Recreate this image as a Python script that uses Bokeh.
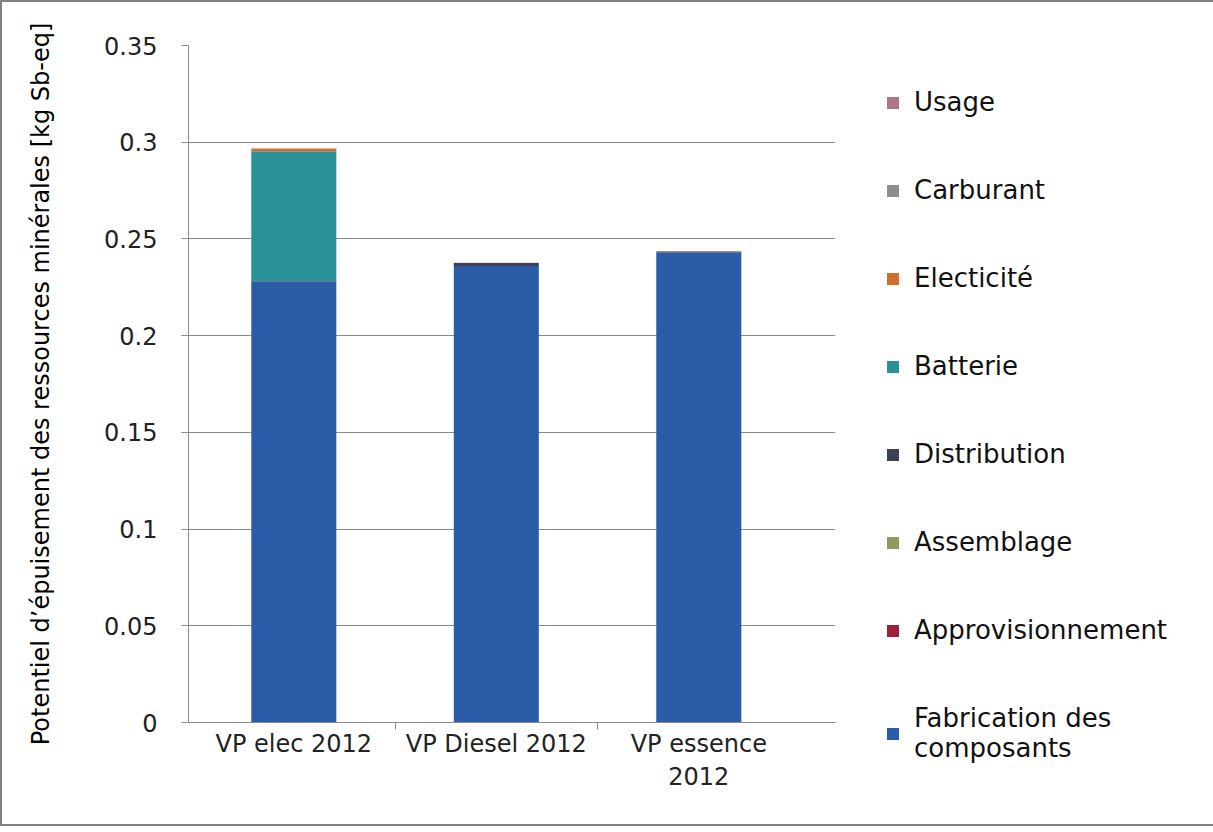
from bokeh.plotting import figure
from bokeh.models import (Legend, LegendItem, FixedTicker, ColumnDataSource)
from bokeh.embed import file_html
from bokeh.resources import INLINE

categories = ["VP elec 2012", "VP Diesel 2012", "VP essence 2012"]
category_labels = ["VP elec 2012", "VP Diesel 2012", "VP essence\n2012"]

fabrication = [0.228, 0.236, 0.243]
approvisionnement = [0.0, 0.0, 0.0]
assemblage = [0.0, 0.0, 0.0]
distribution = [0.0003, 0.0015, 0.0005]
batterie = [0.067, 0.0, 0.0]
electricite = [0.0015, 0.0, 0.0]
carburant = [0.0, 0.0002, 0.0002]
usage = [0.0, 0.0, 0.0]

series_names = ["Fabrication des\ncomposants", "Approvisionnement", "Assemblage",
                "Distribution", "Batterie", "Electicité", "Carburant", "Usage"]
series_keys = ["fabrication", "approvisionnement", "assemblage", "distribution",
               "batterie", "electricite", "carburant", "usage"]
series_colors = ["#2b5ca8", "#a0203c", "#8c9a5c", "#3b4058", "#2a9198",
                 "#d0702e", "#8e8e8e", "#b07482"]

y_ticks = [0, 0.05, 0.1, 0.15, 0.2, 0.25, 0.3, 0.35]
y_tick_labels = ["0", "0.05", "0.1", "0.15", "0.2", "0.25", "0.3", "0.35"]

x_pos = [0.5, 1.5, 2.5]
source = ColumnDataSource(dict(
    x=x_pos, fabrication=fabrication, approvisionnement=approvisionnement,
    assemblage=assemblage, distribution=distribution, batterie=batterie,
    electricite=electricite, carburant=carburant, usage=usage))

FONT = "DejaVu Sans"
FS = "24px"

p = figure(frame_width=647, frame_height=677, output_backend="svg", toolbar_location=None,
           x_range=(-0.02, 3.175), y_range=(0, 0.35),
           min_border_left=186, min_border_top=43, min_border_bottom=102,
           min_border_right=369)
p.styles = {"border": "2px solid #808080", "box-sizing": "content-box"}
p.outline_line_color = None
p.background_fill_color = "white"
p.border_fill_color = "white"

renderers = p.vbar_stack(series_keys, x="x", width=0.42, source=source,
                         color=series_colors, line_color=None)

# axes
p.yaxis.ticker = FixedTicker(ticks=y_ticks)
p.yaxis.major_label_overrides = {t: l for t, l in zip(y_ticks, y_tick_labels)}
p.yaxis.minor_tick_line_color = None
p.yaxis.major_tick_in = 0
p.yaxis.major_tick_out = 7
p.yaxis.axis_line_color = "#8a8a8a"
p.yaxis.major_tick_line_color = "#8a8a8a"
p.yaxis.major_label_text_font = FONT
p.yaxis.major_label_text_font_size = FS
p.yaxis.major_label_text_color = "#222222"
p.yaxis.major_label_standoff = 24
p.yaxis.axis_label = "Potentiel d’épuisement des ressources minérales [kg Sb-eq]"
p.yaxis.axis_label_text_font = FONT
p.yaxis.axis_label_text_font_size = FS
p.yaxis.axis_label_text_font_style = "normal"
p.yaxis.axis_label_text_color = "#000000"
p.yaxis.axis_label_standoff = 46

p.xaxis.ticker = FixedTicker(ticks=x_pos, minor_ticks=[1, 2])
p.xaxis.major_label_overrides = {t: l for t, l in zip(x_pos, category_labels)}
p.xaxis.major_tick_line_color = None
p.xaxis.major_tick_out = 0
p.xaxis.major_tick_in = 0
p.xaxis.minor_tick_in = 0
p.xaxis.minor_tick_out = 7
p.xaxis.minor_tick_line_color = "#8a8a8a"
p.xaxis.axis_line_color = "#8a8a8a"
p.xaxis.major_label_text_font = FONT
p.xaxis.major_label_text_font_size = FS
p.xaxis.major_label_text_color = "#222222"
p.xaxis.major_label_standoff = 0

p.xgrid.grid_line_color = None
p.ygrid.grid_line_color = "#8a8a8a"
p.ygrid.grid_line_width = 1
p.ygrid.ticker = FixedTicker(ticks=y_ticks)

items = [LegendItem(label=n, renderers=[r]) for n, r in zip(series_names, renderers)]
items = items[::-1]
legend = Legend(items=items, location=(50, -41))
legend.label_text_font = FONT
legend.label_text_font_size = "26px"
legend.label_text_color = "#111111"
legend.glyph_width = 15
legend.glyph_height = 15
legend.spacing = 58
legend.label_standoff = 14
legend.border_line_color = None
legend.background_fill_alpha = 0
legend.margin = 0
legend.padding = 8
legend.label_height = 30
p.add_layout(legend, "right")

open("out.html", "w").write(file_html(p, INLINE))
